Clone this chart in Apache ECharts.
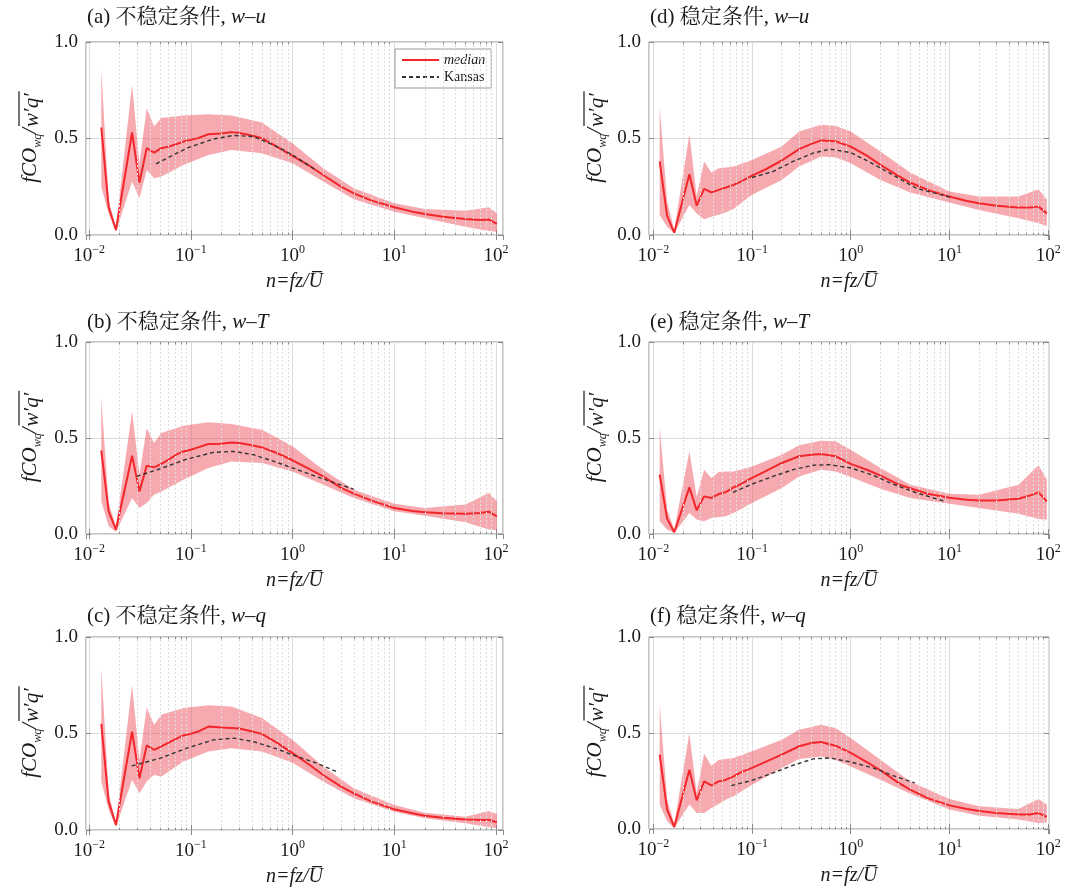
<!DOCTYPE html>
<html>
<head>
<meta charset="utf-8">
<script src="https://cdn.jsdelivr.net/npm/echarts@6/dist/echarts.min.js"></script>
<style>
html,body{margin:0;padding:0;background:#fff;}
#chart{width:1076px;height:894px;}
</style>
</head>
<body>
<div id="chart"></div>
<script>
// ---------------- data ----------------
// frequency points (n = fz/U) for unstable (left) and stable (right) columns
const unstableX = [0.0132, 0.0156, 0.0184, 0.0265, 0.0313, 0.0369, 0.0436, 0.0514, 0.0607, 0.0717, 0.0846, 0.1, 0.118, 0.149, 0.2, 0.25, 0.3, 0.4, 0.5, 0.7, 1.0, 1.5, 2, 3, 4, 6, 10, 15, 20, 30, 50, 70, 85, 102];
const stableX = [0.0116, 0.0138, 0.0163, 0.0232, 0.0275, 0.0327, 0.0387, 0.046, 0.0546, 0.065, 0.077, 0.1, 0.13, 0.2, 0.3, 0.4, 0.5, 0.7, 1.0, 1.5, 2, 3, 4, 6, 10, 15, 20, 30, 50, 65, 80, 97];
const unstableBandX = [0.0132, 0.0156, 0.0184, 0.0265, 0.0313, 0.0369, 0.0436, 0.0514, 0.0846, 0.149, 0.25, 0.5, 1.0, 2, 4, 10, 20, 50, 85, 102];
const stableBandX = [0.0116, 0.0138, 0.0163, 0.0232, 0.0275, 0.0327, 0.0387, 0.046, 0.0546, 0.065, 0.1, 0.2, 0.3, 0.5, 0.7, 1.0, 2, 4, 10, 20, 50, 80, 97];

// (a) unstable w-u
const medianA = [0.557, 0.144, 0.026, 0.531, 0.272, 0.45, 0.427, 0.45, 0.458, 0.47, 0.484, 0.493, 0.502, 0.522, 0.526, 0.533, 0.528, 0.516, 0.502, 0.458, 0.41, 0.355, 0.311, 0.251, 0.216, 0.178, 0.144, 0.121, 0.109, 0.095, 0.083, 0.078, 0.08, 0.057];
const upperA = [0.862, 0.18, 0.04, 0.779, 0.37, 0.657, 0.562, 0.606, 0.619, 0.626, 0.619, 0.583, 0.476, 0.346, 0.242, 0.164, 0.135, 0.126, 0.144, 0.112];
const lowerA = [0.25, 0.11, 0.017, 0.277, 0.19, 0.337, 0.294, 0.303, 0.363, 0.415, 0.441, 0.424, 0.372, 0.277, 0.185, 0.121, 0.087, 0.043, 0.021, 0.017];
const kansasXA = [0.0456, 0.0675, 0.0914, 0.167, 0.263, 0.413, 0.702, 1.0, 1.73];
const kansasYA = [0.369, 0.415, 0.45, 0.497, 0.516, 0.51, 0.458, 0.415, 0.334];

// (b) unstable w-T
const medianB = [0.436, 0.118, 0.023, 0.408, 0.222, 0.356, 0.347, 0.365, 0.387, 0.413, 0.43, 0.439, 0.451, 0.469, 0.47, 0.477, 0.474, 0.462, 0.451, 0.422, 0.384, 0.335, 0.3, 0.24, 0.21, 0.174, 0.135, 0.12, 0.113, 0.108, 0.106, 0.109, 0.116, 0.092];
const upperB = [0.708, 0.161, 0.04, 0.639, 0.31, 0.552, 0.474, 0.526, 0.564, 0.582, 0.573, 0.543, 0.457, 0.335, 0.231, 0.158, 0.135, 0.153, 0.214, 0.17];
const lowerB = [0.17, 0.04, 0.01, 0.188, 0.135, 0.161, 0.205, 0.222, 0.283, 0.344, 0.378, 0.37, 0.326, 0.257, 0.188, 0.118, 0.095, 0.061, 0.023, 0.019];
const kansasXB = [0.0294, 0.05, 0.0914, 0.167, 0.263, 0.413, 0.702, 1.0, 1.87, 3.98];
const kansasYB = [0.3, 0.34, 0.39, 0.425, 0.43, 0.413, 0.373, 0.344, 0.292, 0.234];

// (c) unstable w-q
const medianC = [0.55, 0.147, 0.026, 0.51, 0.268, 0.438, 0.415, 0.433, 0.453, 0.472, 0.49, 0.498, 0.51, 0.536, 0.531, 0.529, 0.526, 0.51, 0.498, 0.453, 0.398, 0.334, 0.285, 0.225, 0.19, 0.147, 0.107, 0.087, 0.074, 0.064, 0.055, 0.052, 0.052, 0.04];
const upperC = [0.843, 0.19, 0.035, 0.753, 0.363, 0.635, 0.545, 0.597, 0.632, 0.647, 0.64, 0.58, 0.467, 0.329, 0.216, 0.13, 0.09, 0.069, 0.099, 0.083];
const lowerC = [0.251, 0.104, 0.017, 0.26, 0.19, 0.251, 0.285, 0.277, 0.355, 0.407, 0.424, 0.407, 0.349, 0.251, 0.164, 0.095, 0.061, 0.035, 0.014, 0.01];
const kansasXC = [0.0263, 0.05, 0.0914, 0.167, 0.263, 0.413, 0.702, 1.0, 1.73, 2.83];
const kansasYC = [0.332, 0.372, 0.424, 0.467, 0.476, 0.458, 0.42, 0.389, 0.346, 0.298];

// (d) stable w-u
const medianD = [0.381, 0.099, 0.012, 0.315, 0.152, 0.239, 0.221, 0.234, 0.246, 0.26, 0.277, 0.308, 0.334, 0.386, 0.445, 0.472, 0.49, 0.486, 0.458, 0.407, 0.363, 0.308, 0.272, 0.234, 0.199, 0.176, 0.164, 0.151, 0.142, 0.142, 0.147, 0.112];
const upperD = [0.663, 0.173, 0.026, 0.522, 0.199, 0.381, 0.324, 0.346, 0.35, 0.355, 0.389, 0.458, 0.536, 0.571, 0.566, 0.536, 0.433, 0.324, 0.225, 0.199, 0.199, 0.237, 0.182];
const lowerD = [0.104, 0.043, 0.009, 0.156, 0.112, 0.081, 0.095, 0.105, 0.118, 0.135, 0.208, 0.285, 0.355, 0.407, 0.403, 0.372, 0.285, 0.22, 0.168, 0.13, 0.087, 0.061, 0.047];
const kansasXD = [0.1, 0.163, 0.26, 0.416, 0.613, 1.0, 1.68, 2.68, 4.63, 10.1];
const kansasYD = [0.298, 0.329, 0.381, 0.424, 0.445, 0.427, 0.369, 0.311, 0.242, 0.196];

// (e) stable w-T
const medianE = [0.309, 0.08, 0.009, 0.243, 0.123, 0.196, 0.188, 0.208, 0.219, 0.243, 0.26, 0.292, 0.321, 0.37, 0.405, 0.413, 0.417, 0.405, 0.365, 0.332, 0.304, 0.26, 0.238, 0.21, 0.189, 0.179, 0.175, 0.175, 0.184, 0.2, 0.217, 0.17];
const upperE = [0.557, 0.127, 0.023, 0.431, 0.193, 0.335, 0.292, 0.323, 0.325, 0.326, 0.352, 0.413, 0.462, 0.486, 0.483, 0.439, 0.344, 0.257, 0.21, 0.205, 0.257, 0.358, 0.283];
const lowerE = [0.066, 0.023, 0.005, 0.109, 0.075, 0.066, 0.083, 0.088, 0.092, 0.11, 0.161, 0.24, 0.3, 0.335, 0.326, 0.297, 0.236, 0.188, 0.158, 0.135, 0.106, 0.078, 0.075];
const kansasXE = [0.0642, 0.1, 0.163, 0.26, 0.416, 0.613, 1.0, 1.68, 2.68, 4.63, 8.97];
const kansasYE = [0.217, 0.26, 0.3, 0.335, 0.358, 0.361, 0.344, 0.306, 0.26, 0.214, 0.17];

// (f) stable w-q
const medianF = [0.387, 0.101, 0.01, 0.309, 0.149, 0.248, 0.227, 0.248, 0.257, 0.274, 0.295, 0.318, 0.344, 0.387, 0.431, 0.448, 0.453, 0.434, 0.396, 0.344, 0.306, 0.243, 0.205, 0.161, 0.123, 0.104, 0.094, 0.083, 0.076, 0.076, 0.083, 0.063];
const upperF = [0.648, 0.153, 0.028, 0.5, 0.188, 0.392, 0.33, 0.361, 0.365, 0.37, 0.405, 0.465, 0.517, 0.543, 0.526, 0.474, 0.361, 0.248, 0.156, 0.118, 0.104, 0.156, 0.127];
const lowerF = [0.127, 0.04, 0.005, 0.127, 0.083, 0.083, 0.109, 0.13, 0.153, 0.17, 0.231, 0.318, 0.365, 0.378, 0.361, 0.326, 0.257, 0.184, 0.101, 0.069, 0.049, 0.031, 0.035];
const kansasXF = [0.0617, 0.1, 0.163, 0.26, 0.416, 0.613, 1.0, 1.68, 2.68, 4.46];
const kansasYF = [0.226, 0.253, 0.292, 0.332, 0.365, 0.37, 0.349, 0.318, 0.278, 0.24];

const panelLabels = ['(a)', '(b)', '(c)', '(d)', '(e)', '(f)'];
const panelConditions = ['不稳定条件', '不稳定条件', '不稳定条件', '稳定条件', '稳定条件', '稳定条件'];
const panelPairs = ['w–u', 'w–T', 'w–q', 'w–u', 'w–T', 'w–q'];
const minorMultipliers = [2, 3, 4, 5, 6, 7, 8, 9];
const decadeBases = [0.01, 0.1, 1, 10];
const seriesNames = ['median', 'Kansas'];
const yNameMain = 'fCO', yNameSub = 'wq', yNameSlash = '/', yNameOver = 'w′q′';

// ---------------- layout ----------------
const SERIF_NAME = 'Liberation Serif';
const SERIF = "'Liberation Serif','Times New Roman','Noto Serif CJK SC','Noto Sans CJK SC',serif";
const TXT = '#1a1a1a';
const FRAME = '#8a8a8a';
const panels = [
  {x: unstableX, m: medianA, bx: unstableBandX, lo: lowerA, up: upperA, kx: kansasXA, ky: kansasYA, left: 86, top: 42, w: 417, h: 193, xmin: 0.00934, xmax: 117, yname: 32, ttop: 5},
  {x: unstableX, m: medianB, bx: unstableBandX, lo: lowerB, up: upperB, kx: kansasXB, ky: kansasYB, left: 86, top: 342, w: 417, h: 192, xmin: 0.00934, xmax: 117, yname: 32, ttop: 310},
  {x: unstableX, m: medianC, bx: unstableBandX, lo: lowerC, up: upperC, kx: kansasXC, ky: kansasYC, left: 86, top: 637, w: 417, h: 193, xmin: 0.00934, xmax: 117, yname: 32, ttop: 604},
  {x: stableX, m: medianD, bx: stableBandX, lo: lowerD, up: upperD, kx: kansasXD, ky: kansasYD, left: 649, top: 42, w: 400, h: 193, xmin: 0.00904, xmax: 102, yname: 597, ttop: 5},
  {x: stableX, m: medianE, bx: stableBandX, lo: lowerE, up: upperE, kx: kansasXE, ky: kansasYE, left: 649, top: 342, w: 400, h: 192, xmin: 0.00904, xmax: 102, yname: 597, ttop: 310},
  {x: stableX, m: medianF, bx: stableBandX, lo: lowerF, up: upperF, kx: kansasXF, ky: kansasYF, left: 649, top: 637, w: 400, h: 192, xmin: 0.00904, xmax: 102, yname: 597, ttop: 604}
];

// minor decade positions (2..9 x 10^k): dotted grid lines + short inner ticks top and bottom
const minorValues = [];
decadeBases.forEach(d => minorMultipliers.forEach(k => minorValues.push(+(k * d).toPrecision(3))));
const minorGridLines = minorValues.map(v => ({xAxis: v}));
const minorTickStyle = {color: FRAME, type: 'solid', width: 1};
const minorTicks = [];
minorValues.forEach(v => {
  minorTicks.push([{coord: [v, 0], lineStyle: minorTickStyle}, {coord: [v, 0.012]}]);
  minorTicks.push([{coord: [v, 1], lineStyle: minorTickStyle}, {coord: [v, 0.988]}]);
});

const zip = (a, b) => a.map((v, i) => [v, b[i]]);

// text measuring for the overlined y-axis name
const mctx = document.createElement('canvas').getContext('2d');
function tw(text, size, italic) {
  mctx.font = (italic ? 'italic ' : '') + size + 'px "' + SERIF_NAME + '"';
  return mctx.measureText(text).width;
}
const W1 = tw(yNameMain, 21, true) + tw(yNameSub, 12, true) + tw(yNameSlash, 21, true);
const W2 = tw(yNameOver, 21, true);

const grid = [], xAxis = [], yAxis = [], series = [], title = [], graphic = [];

panels.forEach((p, i) => {
  grid.push({left: p.left, top: p.top, width: p.w, height: p.h, show: true, borderColor: FRAME, borderWidth: 1, backgroundColor: 'transparent'});
  xAxis.push({
    type: 'log', gridIndex: i, min: p.xmin, max: p.xmax, logBase: 10,
    axisLine: {show: false},
    axisTick: {show: true, inside: true, length: 5, lineStyle: {color: FRAME}},
    splitLine: {show: true, lineStyle: {color: '#dcdcdc', width: 1}},
    axisLabel: {
      showMinLabel: false, showMaxLabel: false, margin: 9, color: TXT,
      formatter: v => {
        const e = Math.round(Math.log10(v));
        return '{b|10}{s|' + (e < 0 ? '−' + (-e) : e) + '}';
      },
      rich: {
        b: {fontFamily: SERIF, fontSize: 19, lineHeight: 22, verticalAlign: 'bottom', color: TXT},
        s: {fontFamily: SERIF, fontSize: 12, lineHeight: 12, verticalAlign: 'top', color: TXT}
      }
    },
    name: '{i|n=fz/U\u0305}', nameLocation: 'middle', nameGap: 37,
    nameTextStyle: {rich: {i: {fontFamily: SERIF, fontStyle: 'italic', fontSize: 20, color: TXT}}}
  });
  xAxis.push({
    type: 'log', gridIndex: i, min: p.xmin, max: p.xmax, position: 'top',
    axisLine: {show: false}, axisLabel: {show: false}, splitLine: {show: false},
    axisTick: {show: true, inside: true, length: 5, lineStyle: {color: FRAME}}
  });
  yAxis.push({
    type: 'value', gridIndex: i, min: 0, max: 1, interval: 0.5,
    axisLine: {show: false},
    axisTick: {show: true, inside: true, length: 5, lineStyle: {color: FRAME}},
    splitLine: {show: true, lineStyle: {color: '#dcdcdc', width: 1}},
    axisLabel: {margin: 8, color: TXT, fontFamily: SERIF, fontSize: 19, formatter: v => v.toFixed(1)}
  });
  yAxis.push({
    type: 'value', gridIndex: i, min: 0, max: 1, interval: 0.5, position: 'right',
    axisLine: {show: false}, axisLabel: {show: false}, splitLine: {show: false},
    axisTick: {show: true, inside: true, length: 5, lineStyle: {color: FRAME}}
  });
  const xi = i * 2, yi = i * 2;
  // minor (2..9) dotted grid lines
  series.push({
    type: 'line', xAxisIndex: xi, yAxisIndex: yi, data: [], silent: true, z: 1,
    markLine: {silent: true, symbol: 'none', animation: false, label: {show: false},
      lineStyle: {color: '#dedede', type: [2, 2], width: 1}, data: minorGridLines}
  });
  // minor ticks
  series.push({
    type: 'line', xAxisIndex: xi, yAxisIndex: yi, data: [], silent: true, z: 6,
    markLine: {silent: true, symbol: 'none', animation: false, label: {show: false},
      lineStyle: minorTickStyle, data: minorTicks}
  });
  // shaded band as one polygon built through the axes
  series.push({
    type: 'custom', xAxisIndex: xi, yAxisIndex: yi, silent: true, z: 2,
    data: p.bx.map((v, k) => [v, p.lo[k], p.up[k]]),
    encode: {x: 0, y: [1, 2]},
    renderItem: (params, api) => {
      if (params.dataIndex !== 0) return null;
      const pts = p.bx.map((v, k) => api.coord([v, p.up[k]]));
      for (let k = p.bx.length - 1; k >= 0; k--) pts.push(api.coord([p.bx[k], p.lo[k]]));
      return {type: 'polygon', shape: {points: pts}, style: {fill: 'rgba(236,66,78,0.45)'}};
    }
  });
  series.push({
    name: seriesNames[0], type: 'line', xAxisIndex: xi, yAxisIndex: yi, symbol: 'none', z: 4,
    lineStyle: {color: '#f2262b', width: 2}, itemStyle: {color: '#f2262b'}, data: zip(p.x, p.m)
  });
  series.push({
    name: seriesNames[1], type: 'line', xAxisIndex: xi, yAxisIndex: yi, symbol: 'none', z: 5,
    lineStyle: {color: '#333', width: 1.4, type: [4, 3]}, itemStyle: {color: '#333'}, data: zip(p.kx, p.ky)
  });
  title.push({
    left: p.left + 1, top: p.ttop, padding: 0,
    text: '{n|' + panelLabels[i] + ' ' + panelConditions[i] + ', }{i|' + panelPairs[i] + '}',
    textStyle: {fontWeight: 'normal', rich: {
      n: {fontFamily: SERIF, fontSize: 21, lineHeight: 24, fontWeight: 'normal', color: TXT},
      i: {fontFamily: SERIF, fontSize: 21, lineHeight: 24, fontStyle: 'italic', fontWeight: 'normal', color: TXT}
    }}
  });
  // rotated y-axis name with overline over w'q'
  const split = -(W1 + W2) / 2 + W1;
  graphic.push({
    type: 'group', x: p.yname, y: p.top + p.h / 2, rotation: Math.PI / 2, silent: true,
    children: [
      {type: 'text', x: split, y: -12, style: {
        text: '{i|' + yNameMain + '}{s|' + yNameSub + '}{i|' + yNameSlash + '}', align: 'right', verticalAlign: 'top',
        rich: {
          i: {fontFamily: SERIF, fontStyle: 'italic', fontSize: 21, lineHeight: 24, verticalAlign: 'top', fill: TXT},
          s: {fontFamily: SERIF, fontStyle: 'italic', fontSize: 12, lineHeight: 12, verticalAlign: 'bottom', padding: [17, 0, 0, 0], fill: TXT}
        }}},
      {type: 'text', x: split + 1, y: -12, style: {
        text: yNameOver, align: 'left', verticalAlign: 'top',
        font: 'italic 21px ' + SERIF, lineHeight: 24, fill: TXT}},
      {type: 'line', shape: {x1: split + 2, y1: -13, x2: split + W2 + 3, y2: -13}, style: {stroke: TXT, lineWidth: 1.2}}
    ]
  });
});

const option = {
  animation: false,
  backgroundColor: '#fff',
  title, grid, xAxis, yAxis, series, graphic,
  legend: {
    data: seriesNames, orient: 'vertical', left: 395, top: 49,
    padding: [4, 6, 4, 6], itemGap: 3, itemWidth: 37, itemHeight: 12,
    borderColor: '#9a9a9a', borderWidth: 1, backgroundColor: '#fff',
    itemStyle: {opacity: 0},
    formatter: n => n === 'median' ? '{i|median}' : '{n|Kansas}',
    textStyle: {rich: {
      i: {fontFamily: SERIF, fontStyle: 'italic', fontSize: 14, color: TXT},
      n: {fontFamily: SERIF, fontSize: 14, color: TXT}
    }}
  }
};

const chart = echarts.init(document.getElementById('chart'), null, {renderer: 'canvas'});
chart.setOption(option);
</script>
</body>
</html>
